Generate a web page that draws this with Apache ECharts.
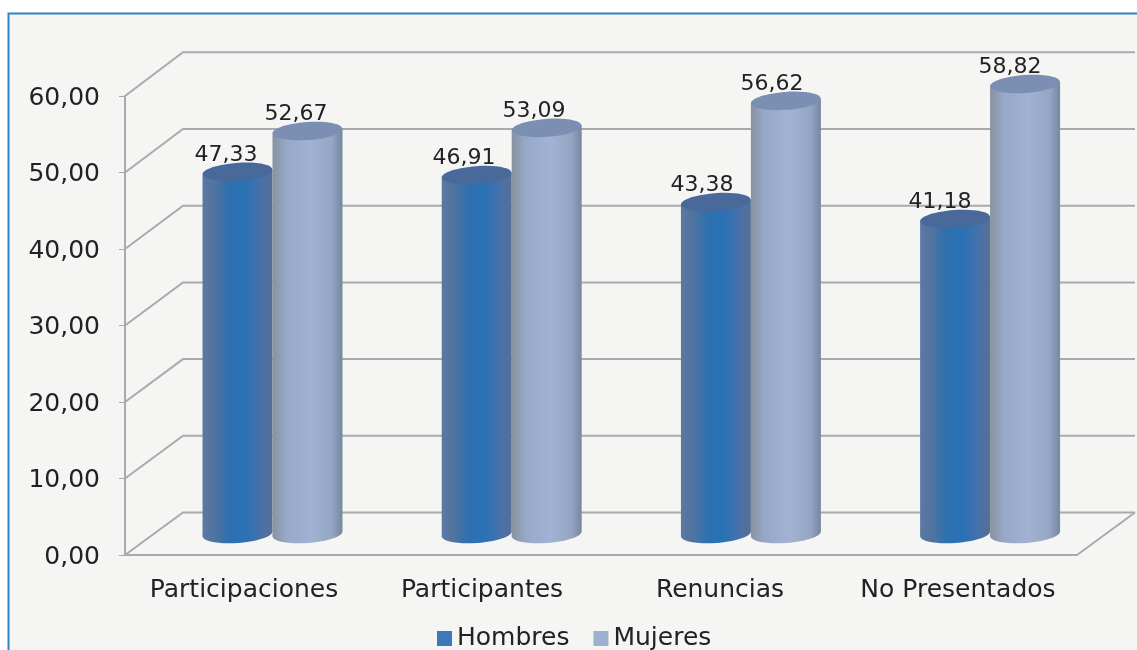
<!DOCTYPE html>
<html>
<head>
<meta charset="utf-8">
<style>
  html, body { margin: 0; padding: 0; background: #fff; overflow: hidden; }
  #chart { width: 1137px; height: 650px; }
</style>
<script src="https://cdn.jsdelivr.net/npm/echarts@6/dist/echarts.min.js"></script>
</head>
<body>
<div id="chart"></div>
<script>
const categories = ["Participaciones", "Participantes", "Renuncias", "No Presentados"];
const hombres = [47.33, 46.91, 43.38, 41.18];
const mujeres = [52.67, 53.09, 56.62, 58.82];
const wallTicks = [0, 10, 20, 30, 40, 50, 60];

// pseudo 3D depth of the plot box, in pixels
const DEPTH_X = 58;
const DEPTH_Y = -42;
const fmt = v => v.toFixed(2).replace(".", ",");

const chart = echarts.init(document.getElementById("chart"));

function cylinder(stops, topColor, side) {
  return (params, api) => {
    const band = api.size([1, 0])[0];
    const rx = band * 0.147;
    const ry = 9;
    const tilt = 0.07; // the ellipses lean a little, like the perspective in the original
    const lean = rx * Math.sin(tilt);
    const value = api.value(1);
    const base = api.coord([api.value(0), 0]);
    const top = api.coord([api.value(0), value]);
    const labelX = base[0] + DEPTH_X / 2 + side * rx - 12;
    // cylinders drift right a bit per category
    const cx = base[0] + DEPTH_X / 2 + side * rx - 0.5 + api.value(0) * 1.2;
    const by = base[1] + DEPTH_Y / 2;
    const ty = top[1] + DEPTH_Y / 2;
    const fill = new echarts.graphic.LinearGradient(cx - rx, 0, cx + rx, 0, stops, true);
    return {
      type: "group",
      children: [
        {
          type: "ellipse", shape: { cx, cy: by, rx, ry }, style: { fill },
          rotation: tilt, originX: cx, originY: by
        },
        {
          type: "polygon",
          shape: {
            points: [
              [cx - rx, ty + lean], [cx + rx, ty - lean],
              [cx + rx, by - lean], [cx - rx, by + lean]
            ]
          },
          style: { fill }
        },
        {
          type: "ellipse", shape: { cx, cy: ty, rx, ry }, style: { fill: topColor },
          rotation: tilt, originX: cx, originY: ty
        },
        {
          type: "text",
          style: {
            x: labelX, y: ty - 17, text: fmt(value), fill: "#222",
            font: "22px 'DejaVu Sans'", align: "center", verticalAlign: "middle"
          }
        }
      ]
    };
  };
}

function wallLine(params, api) {
  const v = api.value(0);
  const start = api.coord([0, v]);
  const end = api.coord([categories.length - 1, v]);
  const band = api.size([1, 0])[0];
  const x0 = start[0] - band / 2;
  const x1 = end[0] + band / 2;
  const y = start[1];
  const dy = DEPTH_Y - 0.5 - v * 0.02;
  const style = { stroke: "#aaaaaa", lineWidth: 2, fill: null };
  const children = [{
    type: "polyline",
    shape: { points: [[x0, y], [x0 + DEPTH_X, y + dy], [x1 + DEPTH_X, y + dy]] },
    style
  }];
  if (v === 0) {
    // floor edge on the right side
    children.push({
      type: "line",
      shape: { x1, y1: y, x2: x1 + DEPTH_X, y2: y + dy },
      style
    });
  }
  return { type: "group", children };
}

const option = {
  animation: false,
  backgroundColor: "#fff",
  textStyle: { fontFamily: "DejaVu Sans" },
  graphic: [{
    type: "rect",
    z: -10,
    shape: { x: 8.5, y: 13.5, width: 1200, height: 700 },
    style: { fill: "#f5f5f4", stroke: "#2c86c2", lineWidth: 2 }
  }],
  grid: { left: 125, right: 60, top: 96, bottom: 95 },
  legend: {
    data: ["Hombres", "Mujeres"],
    left: 432,
    top: 621,
    itemWidth: 15,
    itemHeight: 15,
    itemGap: 24,
    icon: "rect",
    selectedMode: false,
    textStyle: { fontSize: 25, color: "#222" }
  },
  xAxis: {
    type: "category",
    data: categories,
    axisLine: { lineStyle: { color: "#aaaaaa", width: 2 } },
    axisTick: { length: 7, lineStyle: { color: "#aaaaaa", width: 1 } },
    axisLabel: { fontSize: 25, color: "#222", margin: 23, interval: 0 }
  },
  yAxis: {
    type: "value",
    min: 0,
    max: 60,
    interval: 10,
    axisLine: { show: true, lineStyle: { color: "#aaaaaa", width: 2 } },
    axisTick: { show: true, length: 6, lineStyle: { color: "#aaaaaa", width: 1 } },
    splitLine: { show: false },
    axisLabel: {
      fontSize: 25, color: "#222", margin: 25, formatter: fmt,
      verticalAlign: "top", lineHeight: 4
    }
  },
  series: [
    {
      type: "custom",
      name: "walls",
      silent: true,
      z: 1,
      clip: false,
      renderItem: wallLine,
      encode: { y: 0 },
      data: wallTicks.map(t => [t])
    },
    {
      type: "custom",
      name: "Hombres",
      z: 2,
      clip: false,
      itemStyle: { color: "#3d78b8" },
      renderItem: cylinder([
        { offset: 0, color: "#5d78a4" },
        { offset: 0.18, color: "#50739f" },
        { offset: 0.38, color: "#2d70b0" },
        { offset: 0.62, color: "#2a72b6" },
        { offset: 0.85, color: "#4a70a8" },
        { offset: 1, color: "#566f96" }
      ], "#48699a", -1),
      encode: { x: 0, y: 1 },
      data: hombres.map((v, i) => [i, v])
    },
    {
      type: "custom",
      name: "Mujeres",
      z: 3,
      clip: false,
      itemStyle: { color: "#9db0d0" },
      renderItem: cylinder([
        { offset: 0, color: "#87939f" },
        { offset: 0.2, color: "#98a8c8" },
        { offset: 0.55, color: "#a2b2d3" },
        { offset: 0.85, color: "#95a5c4" },
        { offset: 1, color: "#76879f" }
      ], "#7b8fb3", 1),
      encode: { x: 0, y: 1 },
      data: mujeres.map((v, i) => [i, v])
    }
  ]
};

chart.setOption(option);
</script>
</body>
</html>
